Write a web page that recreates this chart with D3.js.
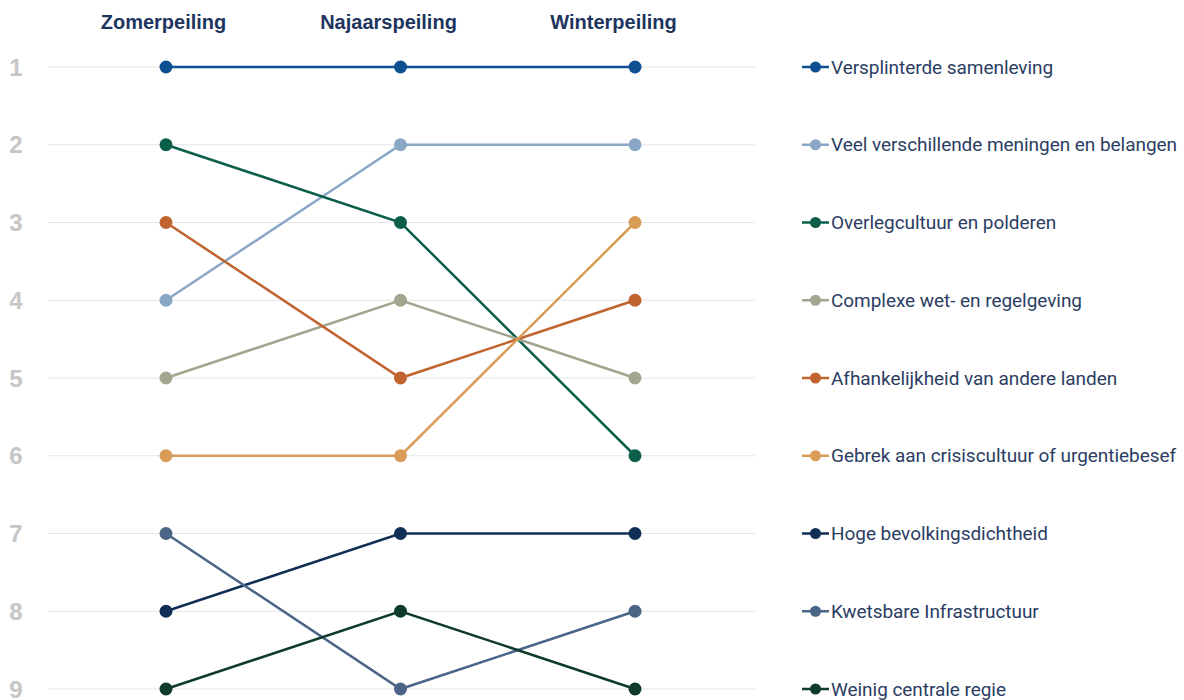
<!DOCTYPE html>
<html><head><meta charset="utf-8">
<script src="https://cdn.jsdelivr.net/npm/d3@7"></script>
<style>body{margin:0;background:#fff}svg{display:block}</style>
</head><body>
<svg id="c" width="1184" height="700"></svg>
<script>
const periods = ["Zomerpeiling", "Najaarspeiling", "Winterpeiling"];
const ranks = [1,2,3,4,5,6,7,8,9];
const seriesNames = [
  "Versplinterde samenleving",
  "Veel verschillende meningen en belangen",
  "Overlegcultuur en polderen",
  "Complexe wet- en regelgeving",
  "Afhankelijkheid van andere landen",
  "Gebrek aan crisiscultuur of urgentiebesef",
  "Hoge bevolkingsdichtheid",
  "Kwetsbare Infrastructuur",
  "Weinig centrale regie"
];
const seriesRanks = [
  [1,1,1],
  [4,2,2],
  [2,3,6],
  [5,4,5],
  [3,5,4],
  [6,6,3],
  [8,7,7],
  [7,9,8],
  [9,8,9]
];
const seriesColors = ["#0d4f91","#8aa7c5","#0b5e4a","#a3a58f","#c0632e","#d99c57","#0f2f57","#4a6585","#0f3a2e"];

const svg = d3.select("#c");
const x = d3.scalePoint().domain(periods).range([166, 635]);
const xHead = d3.scalePoint().domain(periods).range([163.5, 613.5]);
const y = d3.scaleLinear().domain([1, 9]).range([67, 689]);

// grid
svg.append("g").selectAll("line").data(ranks).join("line")
  .attr("x1", 48).attr("x2", 755)
  .attr("y1", d => y(d)).attr("y2", d => y(d))
  .attr("stroke", "#e6e6e6").attr("stroke-width", 1);

// rank labels
svg.append("g").selectAll("text").data(ranks).join("text")
  .attr("x", 16).attr("y", d => y(d)).attr("dy", "0.36em")
  .attr("text-anchor", "middle")
  .attr("font-family", "Arial, 'Liberation Sans', sans-serif").attr("font-weight", "bold")
  .attr("font-size", 24).attr("fill", "#c6c6c6").text(d => d);

// headers
svg.append("g").selectAll("text").data(periods).join("text")
  .attr("x", d => xHead(d)).attr("y", 29).attr("text-anchor", "middle")
  .attr("font-family", "Arial, 'Liberation Sans', sans-serif").attr("font-weight", "bold")
  .attr("font-size", 20).attr("fill", "#1d355e").text(d => d);

const line = d3.line().x((d, i) => x(periods[i])).y(d => y(d));
const series = seriesNames.map((n, i) => ({name: n, vals: seriesRanks[i], color: seriesColors[i]}));

const g = svg.append("g");
series.forEach(s => {
  g.append("path").attr("d", line(s.vals)).attr("fill", "none")
    .attr("stroke", s.color).attr("stroke-width", 2.5);
});
series.forEach(s => {
  g.selectAll(null).data(s.vals).join("circle")
    .attr("cx", (d, i) => x(periods[i])).attr("cy", d => y(d)).attr("r", 6.5)
    .attr("fill", s.color);
});

// legend
const lg = svg.append("g").selectAll("g").data(series).join("g")
  .attr("transform", (d, i) => `translate(0,${y(i + 1)})`);
lg.append("line").attr("x1", 802).attr("x2", 829).attr("y1", 0).attr("y2", 0)
  .attr("stroke", d => d.color).attr("stroke-width", 2.5);
lg.append("circle").attr("cx", 815.5).attr("cy", 0).attr("r", 5.5).attr("fill", d => d.color);
lg.append("text").attr("x", 831).attr("y", 0).attr("dy", "0.35em")
  .attr("font-family", "Roboto, sans-serif").attr("font-size", 19)
  .attr("letter-spacing", -0.05)
  .attr("fill", "#2b3d63").text(d => d.name);
</script>
</body></html>
